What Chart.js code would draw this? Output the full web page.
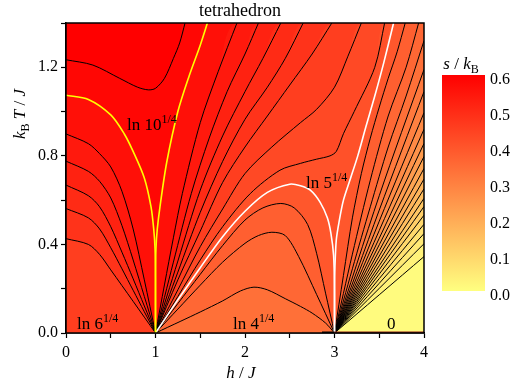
<!DOCTYPE html>
<html>
<head>
<meta charset="utf-8">
<title>tetrahedron</title>
<script src="https://cdn.jsdelivr.net/npm/chart.js@4.4.1/dist/chart.umd.min.js"></script>
<style>
  body { margin: 0; background: #fff; }
  #wrap { position: relative; width: 518px; height: 386px; font-family: "Liberation Serif", "Times New Roman", serif; color: #000; }
  #wrap canvas { position: absolute; top: 0; }
  .lb { position: absolute; white-space: nowrap; font-size: 17px; line-height: 17px; }
  .sp { font-size: 12px; position: relative; top: -7px; }
  .sb { font-size: 12px; position: relative; top: 4px; font-style: normal; }
</style>
</head>
<body>
<div id="wrap">
  <canvas id="main" width="518" height="386" style="left:0"></canvas>
  <canvas id="cbar" width="88" height="386" style="left:430px"></canvas>

  <div class="lb" style="left:140px;width:200px;text-align:center;top:1px;font-size:18px;line-height:18px">tetrahedron</div>
  <div class="lb" style="left:191px;width:100px;text-align:center;top:364px"><i>h</i> / <i>J</i></div>
  <div class="lb" style="left:20px;top:114px;transform:translate(-50%,-50%) rotate(-90deg)"><i>k<span class="sb">B</span> T</i> / <i>J</i></div>
  <div class="lb" style="left:411px;width:100px;text-align:center;top:55px"><i>s</i> / <i>k<span class="sb">B</span></i></div>

  <div class="lb" style="left:127px;top:116px">ln 10<span class="sp">1/4</span></div>
  <div class="lb" style="left:306px;top:174px">ln 5<span class="sp">1/4</span></div>
  <div class="lb" style="left:77px;top:315px">ln 6<span class="sp">1/4</span></div>
  <div class="lb" style="left:233px;top:315px">ln 4<span class="sp">1/4</span></div>
  <div class="lb" style="left:387px;top:315px">0</div>
</div>

<script>
// axis ticks
const hTicks = [0, 1, 2, 3, 4];
const hLabels = ['0', '1', '2', '3', '4'];
const tTicks = [0, 0.4, 0.8, 1.2];
const tLabels = ['0.0', '0.4', '0.8', '1.2'];
const sTicks = [0, 0.1, 0.2, 0.3, 0.4, 0.5, 0.6];
const sLabels = ['0.0', '0.1', '0.2', '0.3', '0.4', '0.5', '0.6'];
const sRange = [0, 0.6];
const sColors = ['#ffff80', '#ff0000'];

// isentropes, points are [h/J, kBT/J]
const c59 = [[0,1.234],[0.3,1.21],[0.6,1.15],[0.8,1.11],[0.92,1.098],[1.0,1.105],[1.1,1.15],[1.2,1.24],[1.27,1.31],[1.33,1.4]];
const yelL = [[0,1.074],[0.25,1.055],[0.5,0.985],[0.65,0.9],[0.75,0.82],[0.875,0.70],[0.95,0.57],[0.98,0.47],[0.995,0.38],[1,0.25],[1,0]];
const yelR = [[1,0],[1,0.25],[1.005,0.38],[1.02,0.47],[1.05,0.57],[1.125,0.77],[1.25,1.0],[1.375,1.16],[1.5,1.3],[1.58,1.4]];
const c55L = [[0,0.899],[0.25,0.855],[0.375,0.81],[0.5,0.75],[0.625,0.64],[0.75,0.47],[0.875,0.24],[1,0]];
const c55R = [[1,0],[1.1,0.217],[1.2,0.43],[1.3,0.63],[1.5,0.95],[1.7,1.18],[1.91,1.4]];
const c53L = [[0,0.776],[0.25,0.73],[0.375,0.685],[0.5,0.61],[0.625,0.485],[0.75,0.33],[0.875,0.165],[1,0]];
const c53R = [[1,0],[1.2,0.32],[1.4,0.63],[1.6,0.88],[1.8,1.09],[2.0,1.26],[2.15,1.4]];
const c51L = [[0,0.668],[0.25,0.62],[0.375,0.57],[0.5,0.48],[0.625,0.365],[0.75,0.245],[0.875,0.122],[1,0]];
const c51R = [[1,0],[1.25,0.325],[1.5,0.645],[1.75,0.89],[2.0,1.09],[2.2,1.24],[2.4,1.4]];
const c49L = [[0,0.562],[0.25,0.52],[0.375,0.47],[0.5,0.385],[0.625,0.29],[0.75,0.193],[0.875,0.096],[1,0]];
const c49R = [[1,0],[1.25,0.275],[1.5,0.545],[1.75,0.775],[2.0,0.965],[2.25,1.11],[2.45,1.24],[2.65,1.4]];
const c47L = [[0,0.426],[0.25,0.40],[0.375,0.355],[0.5,0.285],[0.75,0.143],[1,0]];
const c47R = [[1,0],[1.25,0.24],[1.5,0.46],[1.75,0.68],[2.0,0.84],[2.25,0.98],[2.5,1.12],[2.75,1.26],[2.97,1.4]];
const c44 = [[1,0],[1.25,0.195],[1.5,0.39],[1.75,0.56],[2.0,0.72],[2.3,0.84],[2.62,0.95],[2.8,1.01],[3.0,1.11],[3.15,1.25],[3.3,1.4]];
const c42 = [[1,0],[1.25,0.165],[1.5,0.33],[1.75,0.48],[2.06,0.63],[2.39,0.735],[2.62,0.766],[2.8,0.785],[2.95,0.8],[3.02,0.82],[3.1,0.9],[3.22,1.0],[3.45,1.2],[3.56,1.4]];
const whL = [[1,0],[1.25,0.15],[1.5,0.295],[1.75,0.435],[2.0,0.55],[2.25,0.635],[2.5,0.672],[2.62,0.665],[2.73,0.645],[2.84,0.59],[2.92,0.52],[2.96,0.45],[2.99,0.35],[3,0.2],[3,0]];
const whR = [[3,0],[3,0.2],[3.005,0.3],[3.02,0.42],[3.05,0.5],[3.1,0.6],[3.18,0.7],[3.26,0.8],[3.35,0.93],[3.45,1.07],[3.55,1.22],[3.66,1.4]];
const h19L = [[1,0],[1.25,0.133],[1.5,0.265],[1.75,0.395],[2.0,0.51],[2.2,0.565],[2.4,0.585],[2.55,0.565],[2.7,0.49],[2.8,0.36],[2.9,0.18],[3,0]];
const h19R = [[3,0],[3.1,0.26],[3.2,0.52],[3.3,0.72],[3.4,0.88],[3.5,1.02],[3.6,1.15],[3.7,1.27],[3.79,1.4]];
const h18L = [[1,0],[1.25,0.108],[1.5,0.216],[1.75,0.32],[2.0,0.405],[2.15,0.44],[2.3,0.455],[2.45,0.44],[2.6,0.345],[2.8,0.174],[3,0]];
const h18R = [[3,0],[3.2,0.356],[3.4,0.69],[3.6,0.98],[3.8,1.2],[3.94,1.4]];
const h17L = [[1,0],[1.275,0.052],[1.5,0.095],[1.75,0.145],[1.95,0.19],[2.1,0.207],[2.25,0.195],[2.45,0.155],[2.62,0.12],[2.75,0.09],[2.9,0.045],[3,0]];
const h17R = [[3,0],[3.2,0.29],[3.4,0.57],[3.6,0.84],[3.8,1.07],[4,1.32]];

// fan of low-entropy lines leaving (3, 0)
const fanLevels = [0.020, 0.041, 0.061, 0.082, 0.102, 0.122, 0.143, 0.163, 0.183, 0.204, 0.224, 0.245, 0.265, 0.285, 0.306, 0.326];
const fanLines = [
  [[3,0],[4,0.345]], [[3,0],[4,0.403]], [[3,0],[4,0.449]], [[3,0],[4,0.491]],
  [[3,0],[4,0.532]], [[3,0],[4,0.571]], [[3,0],[4,0.608]], [[3,0],[4,0.651]],
  [[3,0],[4,0.695]], [[3,0],[4,0.743]], [[3,0],[4,0.797]], [[3,0],[4,0.856]],
  [[3,0],[3.5,0.463],[4,0.92]], [[3,0],[3.5,0.505],[4,0.995]],
  [[3,0],[3.5,0.555],[4,1.09]], [[3,0],[3.5,0.62],[4,1.19]]
];

// level of each line above and how it is stroked
const lineLevels = [0.591, 0.5756, 0.5505, 0.5301, 0.5097, 0.4893, 0.4689, 0.44, 0.415, 0.4024, 0.3874, 0.367, 0.3466];
const lineParts = [[c59], [yelL, yelR], [c55L, c55R], [c53L, c53R], [c51L, c51R], [c49L, c49R], [c47L, c47R], [c44], [c42], [whL, whR], [h19L, h19R], [h18L, h18R], [h17L, h17R]];
const lineColors = ['#000', '#ffff00', '#000', '#000', '#000', '#000', '#000', '#000', '#000', '#ffffff', '#000', '#000', '#000'];

function hexRgb(h) {
  return [1, 3, 5].map(i => parseInt(h.substr(i, 2), 16));
}
function sColor(s) {
  const t = Math.min(1, Math.max(0, (s - sRange[0]) / (sRange[1] - sRange[0])));
  const a = hexRgb(sColors[0]), b = hexRgb(sColors[1]);
  const c = a.map((v, i) => Math.round(v + (b[i] - v) * t));
  return 'rgb(' + c.join(',') + ')';
}
function xy(arr) {
  return arr.map(p => ({x: p[0], y: p[1]}));
}

// every contour with its level
const all = [];
lineLevels.forEach((lv, i) => all.push({lv: lv, parts: lineParts[i], color: lineColors[i], w: lineColors[i] === '#000' ? 1 : 1.6}));
fanLevels.forEach((lv, i) => all.push({lv: lv, parts: [fanLines[i]], color: '#000', w: 1}));

const datasets = [];
// top band
datasets.push({data: xy([[0,1.4],[4,1.4]]), fill: 'start', backgroundColor: sColor(0.6),
  borderColor: 'rgba(0,0,0,0)', borderWidth: 0, pointRadius: 0, order: 5000});

// sublevel areas, painted from the highest level down
const sorted = all.slice().sort((a, b) => a.lv - b.lv);
sorted.forEach((c, i) => {
  const below = i > 0 ? sorted[i - 1].lv : 0;
  c.parts.forEach(p => {
    const q = p.slice();
    const last = q[q.length - 1];
    if (last[1] >= 1.399 && last[0] < 4) q.push([4, 1.4]);
    datasets.push({data: xy(q), fill: 'start', backgroundColor: sColor((c.lv + below) / 2),
      borderColor: 'rgba(0,0,0,0)', borderWidth: 0, pointRadius: 0, tension: 0.3, order: 1000 + i});
  });
});

// the lines themselves
all.forEach(c => {
  c.parts.forEach(p => {
    datasets.push({data: xy(p), fill: false, borderColor: c.color, borderWidth: c.w,
      pointRadius: 0, tension: 0.3, order: c.color === '#000' ? 2 : 1});
  });
});
// T = 0 edge right of the h = 3 point
datasets.push({data: xy([[3,0],[4,0]]), fill: false, borderColor: '#8b1a10', borderWidth: 3, pointRadius: 0, order: 0});
datasets.push({data: xy([[2.86,0],[3,0]]), fill: false, borderColor: '#000', borderWidth: 3, pointRadius: 0, order: 0});

const frame = {
  id: 'frame',
  afterDatasetsDraw(chart) {
    const {ctx, chartArea: a} = chart;
    ctx.save();
    ctx.strokeStyle = '#000';
    ctx.lineWidth = 1.5;
    ctx.strokeRect(a.left, a.top, a.right - a.left, a.bottom - a.top);
    ctx.restore();
  }
};

const tickFont = {family: 'Liberation Serif', size: 16};

function pick(v, ticks, labels) {
  for (let i = 0; i < ticks.length; i++) {
    if (Math.abs(ticks[i] - v) < 1e-6) return labels[i];
  }
  return '';
}

new Chart(document.getElementById('main'), {
  type: 'line',
  data: {datasets: datasets},
  plugins: [frame],
  options: {
    responsive: false,
    animation: false,
    events: [],
    layout: {padding: {left: 0, right: 94, top: 23, bottom: 0}},
    plugins: {legend: {display: false}, tooltip: {enabled: false}},
    scales: {
      x: {
        type: 'linear', min: 0, max: 4,
        afterFit(s) { s.height = 53; },
        ticks: {stepSize: 0.5, autoSkip: false, maxRotation: 0, padding: 5, color: '#000', font: tickFont,
          callback: v => pick(v, hTicks, hLabels)},
        grid: {drawOnChartArea: false, tickLength: 5, color: '#000', tickWidth: 1.2},
        border: {color: '#000', width: 1.5}
      },
      y: {
        type: 'linear', min: 0, max: 1.4,
        afterFit(s) { s.width = 66; },
        ticks: {stepSize: 0.2, autoSkip: false, padding: 3, color: '#000', font: tickFont,
          callback: v => pick(v, tTicks, tLabels)},
        grid: {drawOnChartArea: false, tickLength: 5, color: '#000', tickWidth: 1.2},
        border: {color: '#000', width: 1.5}
      }
    }
  }
});

// colour scale
new Chart(document.getElementById('cbar'), {
  type: 'bar',
  data: {
    labels: [''],
    datasets: [{
      data: [sRange[1]],
      barPercentage: 1, categoryPercentage: 1, borderWidth: 0,
      backgroundColor(ctx) {
        const a = ctx.chart.chartArea;
        if (!a) return sColors[1];
        const g = ctx.chart.ctx.createLinearGradient(0, a.bottom, 0, a.top);
        g.addColorStop(0, sColors[0]);
        g.addColorStop(1, sColors[1]);
        return g;
      }
    }]
  },
  options: {
    responsive: false,
    animation: false,
    events: [],
    layout: {padding: {left: 12, right: 0, top: 75, bottom: 95}},
    plugins: {legend: {display: false}, tooltip: {enabled: false}},
    scales: {
      x: {display: false},
      y: {
        position: 'right', min: sRange[0], max: sRange[1],
        afterFit(s) { s.width = 33; },
        ticks: {stepSize: 0.1, padding: 5, labelOffset: 5, color: '#000', font: tickFont,
          callback: v => pick(v, sTicks, sLabels)},
        grid: {display: false, drawTicks: false},
        border: {display: false}
      }
    }
  }
});
</script>
</body>
</html>
